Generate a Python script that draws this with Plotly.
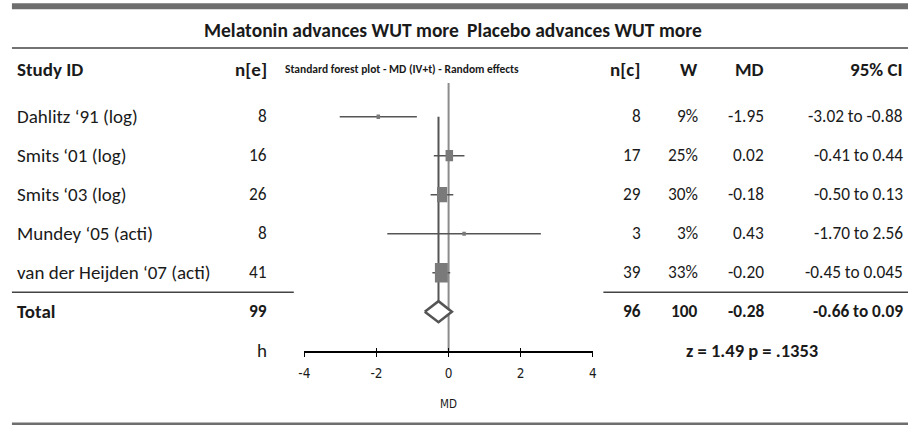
import math
import plotly.graph_objects as go

# ---- data ----
studies = ["Dahlitz \u201891 (log)", "Smits \u201801 (log)", "Smits \u201803 (log)",
           "Mundey \u201805 (acti)", "van der Heijden \u201807 (acti)"]
n_e = [8, 16, 26, 8, 41]
n_c = [8, 17, 29, 3, 39]
weights = ["9%", "25%", "30%", "3%", "33%"]
md = [-1.95, 0.02, -0.18, 0.43, -0.20]
ci_low = [-3.02, -0.41, -0.50, -1.70, -0.45]
ci_high = [-0.88, 0.44, 0.13, 2.56, 0.045]
ci_text = ["-3.02 to -0.88", "-0.41 to 0.44", "-0.50 to 0.13", "-1.70 to 2.56", "-0.45 to 0.045"]

total_n_e = 99
total_n_c = 96
total_w = "100"
total_md = -0.28
total_low = -0.66
total_high = 0.09
total_ci_text = "-0.66 to 0.09"
z_value = 1.49
p_value = ".1353"

x_ticks = [-4, -2, 0, 2, 4]
x_range = [-4, 4]

header = ["Study ID", "n[e]", "Standard forest plot - MD (IV+t) - Random effects",
          "n[c]", "W", "MD", "95% CI"]
left_title = "Melatonin advances WUT more"
right_title = "Placebo advances WUT more"

# ---- layout constants ----
W, H = 912, 425
ROW0 = 116.7      # pixel centre of first study row
STEP = 39.0       # pixel spacing between rows


def row_of(px):
    return (px - ROW0) / STEP


n = len(studies)
total_row = n
axis_row = n + 1
header_row = row_of(69)
title_row = row_of(30)

TEXT = "#1a1a1a"
DARK = "#555555"
BOX = "#7a7a7a"
ZERO = "#8c8c8c"
FONT = "Carlito, Lato, Open Sans, sans-serif"
NARROW = "Liberation Sans Narrow, DejaVu Sans Condensed, Arial Narrow, sans-serif"
FS_WORD = 19      # labels made of words
FS_NUM = 17.3     # numeric cells

# text columns (paper x); annotation boxes carry ~3px padding
PAD = 3
col_study = (12 - PAD) / W
col_ne = (263 + PAD) / W
col_forest = 400 / W
col_nc = (641 + PAD) / W
col_w = (699 + PAD) / W
col_md = (765 + PAD) / W
col_ci = (906 + PAD) / W

fig = go.Figure()

# confidence intervals
for i in range(n):
    fig.add_trace(go.Scatter(
        x=[ci_low[i], ci_high[i]], y=[i, i], mode="lines",
        line=dict(color=DARK, width=1.6), hoverinfo="skip", showlegend=False))

# pooled diamond
half_h = 10.5 / STEP
fig.add_trace(go.Scatter(
    x=[total_low, total_md, total_high, total_md, total_low],
    y=[total_row, total_row - half_h, total_row, total_row + half_h, total_row],
    mode="lines", fill="toself", fillcolor="white",
    line=dict(color=DARK, width=2.6), hoverinfo="skip", showlegend=False))

shapes = []

# reference line at zero and line at the pooled estimate
shapes.append(dict(type="line", xref="x", yref="y", x0=0, x1=0,
                   y0=row_of(83), y1=axis_row, line=dict(color=ZERO, width=2), layer="below"))
shapes.append(dict(type="line", xref="x", yref="y", x0=total_md, x1=total_md,
                   y0=0, y1=total_row - half_h, line=dict(color=DARK, width=2), layer="below"))

# study boxes, area proportional to inverse-variance weight
for i in range(n):
    se = (ci_high[i] - ci_low[i]) / 3.92
    area = 4.0 / se ** 2
    bw = max(3.5, math.sqrt(area / 1.5))
    bh = max(4.0, math.sqrt(area * 1.5))
    shapes.append(dict(type="rect", xref="x", yref="y",
                       xsizemode="pixel", ysizemode="pixel",
                       xanchor=md[i], yanchor=i,
                       x0=-bw / 2, x1=bw / 2, y0=-bh / 2, y1=bh / 2,
                       fillcolor=BOX, line=dict(width=0)))

# table rules
shapes.append(dict(type="line", xref="paper", yref="y", x0=6 / W, x1=1,
                   y0=row_of(6.3), y1=row_of(6.3), line=dict(color="#6e6e6e", width=6)))
shapes.append(dict(type="line", xref="paper", yref="y", x0=6 / W, x1=1,
                   y0=row_of(48), y1=row_of(48), line=dict(color="#444444", width=1.5)))
shapes.append(dict(type="line", xref="paper", yref="y", x0=6 / W, x1=291 / W,
                   y0=n - 0.5, y1=n - 0.5, line=dict(color="#444444", width=1.5)))
shapes.append(dict(type="line", xref="paper", yref="y", x0=604 / W, x1=1,
                   y0=n - 0.5, y1=n - 0.5, line=dict(color="#444444", width=1.5)))
shapes.append(dict(type="line", xref="paper", yref="y", x0=6 / W, x1=1,
                   y0=row_of(424.5), y1=row_of(424.5), line=dict(color="#6e6e6e", width=4)))

annotations = []


def txt(x, y, s, anchor="left", bold=False, size=FS_NUM, font=FONT):
    annotations.append(dict(
        x=x, y=y, xref="paper", yref="y", text=f"<b>{s}</b>" if bold else s,
        xanchor=anchor, yanchor="middle", showarrow=False,
        font=dict(family=font, size=size, color=TEXT)))


# titles
txt((457 + PAD) / W, title_row, left_title, "right", bold=True, size=19.5)
txt((467 - PAD) / W, title_row, right_title, "left", bold=True, size=19.5)

# header row
txt(col_study, header_row, header[0], "left", bold=True, size=FS_WORD)
txt(col_ne, header_row, header[1], "right", bold=True, size=FS_WORD)
txt(col_forest, header_row, header[2], "center", bold=True, size=11.5)
txt(col_nc, header_row, header[3], "right", bold=True, size=FS_WORD)
txt(col_w, header_row, header[4], "right", bold=True, size=FS_WORD)
txt(col_md, header_row, header[5], "right", bold=True, size=FS_WORD)
txt(col_ci, header_row, header[6], "right", bold=True, size=FS_WORD)

# study rows
for i in range(n):
    txt(col_study, i, studies[i], "left", size=FS_WORD)
    txt(col_ne, i, str(n_e[i]), "right")
    txt(col_nc, i, str(n_c[i]), "right")
    txt(col_w, i, weights[i], "right")
    txt(col_md, i, f"{md[i]:.2f}", "right")
    txt(col_ci, i, ci_text[i], "right")

# total row
txt(col_study, total_row, "Total", "left", bold=True, size=FS_WORD)
txt(col_ne, total_row, str(total_n_e), "right", bold=True)
txt(col_nc, total_row, str(total_n_c), "right", bold=True)
txt(col_w, total_row, total_w, "right", bold=True)
txt(col_md, total_row, f"{total_md:.2f}", "right", bold=True)
txt(col_ci, total_row, total_ci_text, "right", bold=True)

# axis row
txt(col_ne, axis_row, "h", "right", size=FS_WORD)
txt(754 / W, axis_row, f"z = {z_value:.2f} p = {p_value}", "center", bold=True, size=18.5)

# axis title
annotations.append(dict(x=0, y=row_of(404), xref="x", yref="y", text="MD",
                        showarrow=False, xanchor="center", yanchor="middle",
                        font=dict(family=NARROW, size=11.5, color=TEXT)))

axis_pos = 1 - 352 / H
x_dom = [301.7 / W, 593.3 / W]

fig.update_layout(
    width=W, height=H,
    margin=dict(l=0, r=0, t=0, b=0),
    paper_bgcolor="white", plot_bgcolor="white",
    showlegend=False,
    shapes=shapes,
    annotations=annotations,
    xaxis=dict(domain=x_dom, range=x_range, anchor="free", position=axis_pos,
               showline=True, linecolor="black", linewidth=1.5,
               ticks="outside", ticklen=4, tickwidth=1, tickcolor="black",
               tickvals=x_ticks, ticktext=[str(t) for t in x_ticks],
               ticklabelstandoff=5,
               tickfont=dict(family=NARROW, size=13.5, color=TEXT),
               showgrid=False, zeroline=False, fixedrange=True),
    xaxis2=dict(domain=x_dom, range=x_range, anchor="free", position=axis_pos,
                overlaying="x", showline=False,
                ticks="inside", ticklen=4, tickwidth=1, tickcolor="black",
                tickvals=x_ticks, showticklabels=False,
                showgrid=False, zeroline=False),
    yaxis=dict(domain=[0, 1], range=[row_of(H), row_of(0)],
               visible=False, showgrid=False, zeroline=False, fixedrange=True),
)

# invisible trace that brings the second tick axis into the figure
fig.add_trace(go.Scatter(x=x_range, y=[axis_row, axis_row], xaxis="x2", yaxis="y",
                         mode="lines", line=dict(width=0), hoverinfo="skip",
                         showlegend=False))

fig.write_html("out.html")
